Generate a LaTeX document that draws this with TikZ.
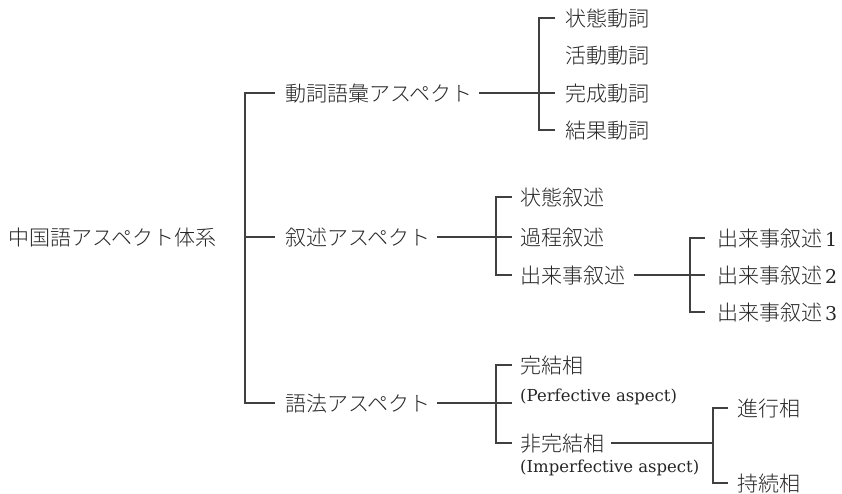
\documentclass[tikz,border=0pt]{standalone}
\usepackage{fontspec}
\setmainfont{DejaVu Serif}
\newfontfamily\jp{Noto Sans CJK JP Light}
\newcommand\numlbl[1]{\hspace{3pt}{\rmfamily\fontsize{19}{21}\selectfont #1}}
\tikzset{
  lbl/.style={anchor=west, inner sep=0pt, font=\jp\fontsize{21}{25}\selectfont,
              text height=18.5pt, text depth=2.5pt, text=black!85},
  sub/.style={anchor=west, inner sep=0pt, font=\rmfamily\fontsize{16.5}{18}\selectfont,
              text=black!85},
  conn/.style={line width=1.3pt, draw=black!75},
}
\begin{document}
\begin{tikzpicture}[x=1pt, y=-1pt]
\useasboundingbox (0,0) rectangle (842,493);
% nodes
\node[lbl] (root) at (8,237) {中国語アスペクト体系};
\node[lbl] (lex)  at (285,93)  {動詞語彙アスペクト};
\node[lbl] (narr) at (285,237) {叙述アスペクト};
\node[lbl] (gram) at (285,403) {語法アスペクト};
% lexical
\node[lbl] (l1) at (565,18)  {状態動詞};
\node[lbl] (l2) at (565,55)  {活動動詞};
\node[lbl] (l3) at (565,93)  {完成動詞};
\node[lbl] (l4) at (565,130) {結果動詞};
% narrative
\node[lbl] (n1) at (520,197) {状態叙述};
\node[lbl] (n2) at (520,237) {過程叙述};
\node[lbl] (n3) at (520,275) {出来事叙述};
\node[lbl] (e1) at (717,238) {出来事叙述\numlbl{1}};
\node[lbl] (e2) at (717,275) {出来事叙述\numlbl{2}};
\node[lbl] (e3) at (717,312) {出来事叙述\numlbl{3}};
% grammatical
\node[lbl] (g1) at (520,365) {完結相};
\node[sub] (g1s) at (520,397) {(Perfective aspect)};
\node[lbl] (g2) at (520,443) {非完結相};
\node[sub] (g2s) at (520,468) {(Imperfective aspect)};
\node[lbl] (i1) at (737,408) {進行相};
\node[lbl] (i2) at (737,483) {持続相};
% bracket x positions
\coordinate (bT) at (245,0);
\coordinate (bL) at (539,0);
\coordinate (bN) at (496,0);
\coordinate (bE) at (690,0);
\coordinate (bG) at (496,0);
\coordinate (bI) at (713,0);
% trunk
\draw[conn] ([xshift=-10pt]lex.west) -| (bT |- gram.west) -- ([xshift=-10pt]gram.west);
\draw[conn] (bT |- narr.west) -- ([xshift=-10pt]narr.west);
% lexical bracket
\draw[conn] ([xshift=6pt]lex.east) -- ([xshift=-10pt]l3.west);
\draw[conn] ([xshift=-10pt]l1.west) -| (bL |- l4.west) -- ([xshift=-10pt]l4.west);
% narrative bracket
\draw[conn] ([xshift=6pt]narr.east) -- ([xshift=-8pt]n2.west);
\draw[conn] ([xshift=-8pt]n1.west) -| (bN |- n3.west) -- ([xshift=-8pt]n3.west);
% event bracket
\draw[conn] ([xshift=9pt]n3.east) -- ([xshift=-12pt]e2.west);
\draw[conn] ([xshift=-12pt]e1.west) -| (bE |- e3.west) -- ([xshift=-12pt]e3.west);
% grammatical bracket
\draw[conn] ([xshift=6pt]gram.east) -- ([xshift=-8pt]g1s.west |- gram.east);
\draw[conn] ([xshift=-8pt]g1.west) -| (bG |- g2.west) -- ([xshift=-8pt]g2.west);
% imperfective bracket
\draw[conn] ([xshift=7pt]g2.east) -- (bI |- g2.east);
\draw[conn] ([xshift=-9pt]i1.west) -| (bI |- i2.west) -- ([xshift=-9pt]i2.west);
\end{tikzpicture}
\end{document}
